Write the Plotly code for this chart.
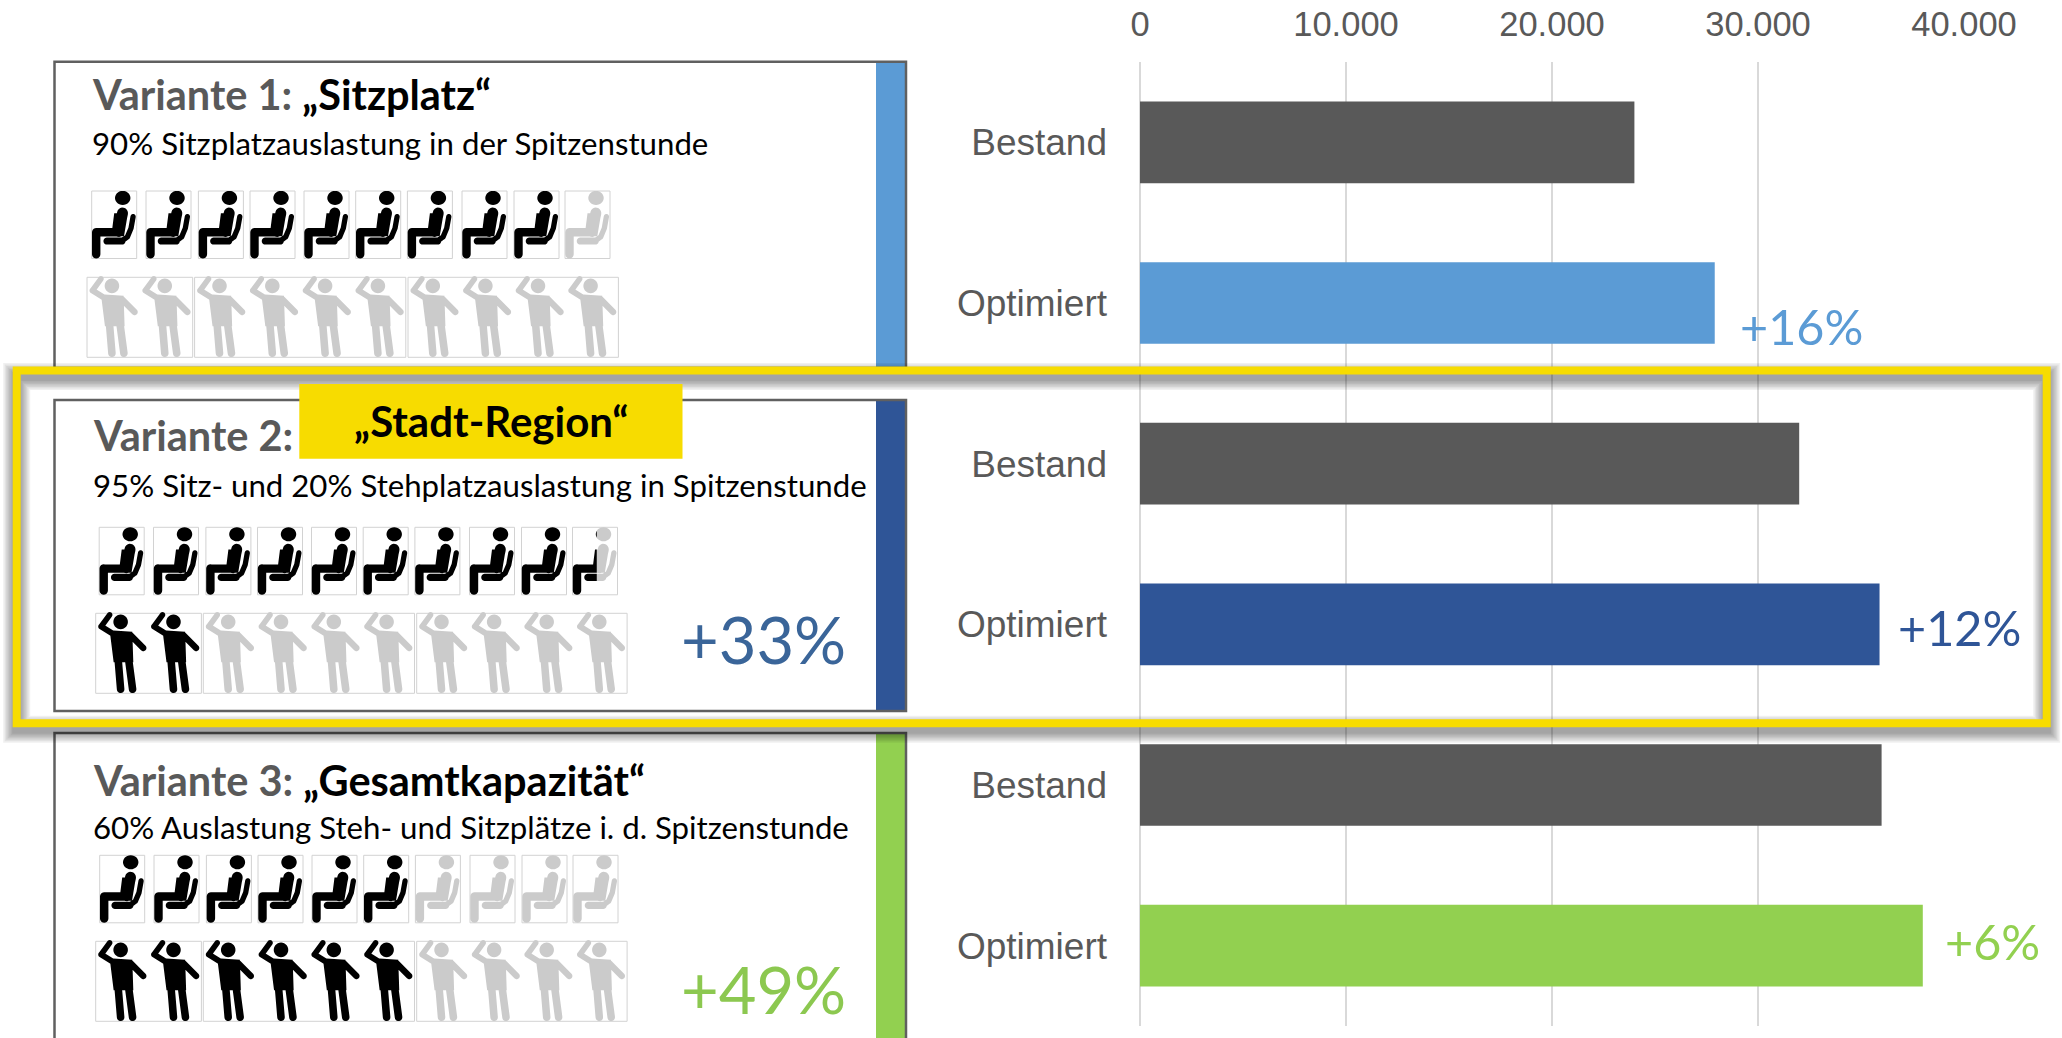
import math
import numpy as np
import plotly.graph_objects as go

# ---------- data ----------
bar_labels = ["Bestand", "Optimiert", "Bestand", "Optimiert", "Bestand", "Optimiert"]
bar_values = [24000, 27900, 32000, 35900, 36000, 38000]
bar_colors = ["#595959", "#5B9BD5", "#595959", "#2F5597", "#595959", "#92D050"]
axis_ticks = [0, 10000, 20000, 30000, 40000]

heading_gray = ["Variante 1:", "Variante 2:", "Variante 3:"]
heading_black = ["„Sitzplatz“", "", "„Gesamtkapazität“"]
subtitles = ["90% Sitzplatzauslastung in der Spitzenstunde",
             "95% Sitz- und 20% Stehplatzauslastung in Spitzenstunde",
             "60% Auslastung Steh- und Sitzplätze i. d. Spitzenstunde"]
highlight_label = "„Stadt-Region“"
seats_filled = [9, 9.54, 6]
standing_filled = [0, 2, 6]
panel_colors = ["#5B9BD5", "#2F5597", "#92D050"]
capacity_labels = ["", "+33%", "+49%"]
capacity_colors = ["", "#3A6599", "#8CC850"]
gain_labels = ["+16%", "+12%", "+6%"]
gain_colors = ["#5B9BD5", "#2F5597", "#92D050"]

# ---------- layout constants (pixels of the 2062x1038 page) ----------
W, H = 2062, 1038
PLOT_L, PLOT_R, PLOT_T, PLOT_B = 1140, 1964, 62, 1026
YELLOW = "#F7DC00"
ICON_BLACK, ICON_GRAY, CELL = "#000000", "#CBCBCB", "#D2D2D2"

panel_top = [61.7, 400, 733]
panel_bottom = [368, 711, 1042]
heading_y = [94, 435, 780]
subtitle_y = [143, 484.5, 827]
text_x = [91, 92, 92]
capacity_y = [0, 639, 989]
seat_x0 = [91.7, 99.2, 99.7]
seat_y0 = [191, 527.3, 855.3]
stand_x0 = [87, 95.7, 95.7]
stand_y0 = [277.3, 613.3, 941.3]
seat_offsets = [0, 54.3, 106.7, 158.3, 212.3, 264, 315.7, 370.3, 422.3, 473.3]
SEAT_W, SEAT_H = 45, 67.5
stand_groups = [(0, 105.7, 2), (107.6, 318.8, 4), (321, 531.4, 4)]
STAND_H = 80


def X(px):
    return px / W


def Y(py):
    return 1 - py / H


# ---------- pictogram geometry: lists of convex pieces in a nominal cell ----------
def circle(cx, cy, rx, ry=None, n=28):
    ry = rx if ry is None else ry
    return [(cx + rx * math.cos(2 * math.pi * i / n), cy + ry * math.sin(2 * math.pi * i / n)) for i in range(n)]


def capsule(p, q, r, n=10):
    ang = math.atan2(q[1] - p[1], q[0] - p[0])
    pts = []
    for i in range(n + 1):
        a = ang + math.pi / 2 + math.pi * i / n
        pts.append((p[0] + r * math.cos(a), p[1] + r * math.sin(a)))
    for i in range(n + 1):
        a = ang - math.pi / 2 + math.pi * i / n
        pts.append((q[0] + r * math.cos(a), q[1] + r * math.sin(a)))
    return pts


def stroke(points, r):
    return [capsule(points[i], points[i + 1], r) for i in range(len(points) - 1)]


SEAT_PIECES = (
    [circle(31.7, 6.9, 7.9, 7.0)]
    + stroke([(31.5, 22), (27.5, 40)], 5.6)
    + [[(23, 22), (37, 22), (33, 45), (20, 45)]]
    + stroke([(4.6, 41), (26, 41)], 4.2)
    + stroke([(4.6, 41), (4.6, 62.7)], 4.3)
    + stroke([(42.3, 25.5), (40.2, 37), (36.5, 45.5), (31, 49.5)], 2.7)
    + stroke([(31, 49.7), (15.5, 49.7)], 3.5)
)
STAND_PIECES = (
    [circle(25, 8.6, 7.3)]
    + [[(14, 17), (36.7, 18.5), (37.7, 49), (18, 49)]]
    + stroke([(35, 22), (47.7, 34.7)], 3.2)
    + stroke([(18, 21), (5.5, 13.2)], 3.0)
    + stroke([(5.5, 13.2), (14, 1.5)], 2.8)
    + stroke([(22.5, 46), (25, 76)], 3.8)
    + stroke([(33, 46), (37, 76)], 3.8)
)


def clip_halfplane(poly, c, keep_left):
    out = []
    n = len(poly)
    inside = (lambda p: p[0] <= c) if keep_left else (lambda p: p[0] >= c)
    for i in range(n):
        a, b = poly[i], poly[(i + 1) % n]
        ia, ib = inside(a), inside(b)
        if ia:
            out.append(a)
        if ia != ib:
            t = (c - a[0]) / (b[0] - a[0])
            out.append((c, a[1] + t * (b[1] - a[1])))
    return out


def oriented(poly):
    area = sum(poly[i][0] * poly[(i + 1) % len(poly)][1] - poly[(i + 1) % len(poly)][0] * poly[i][1]
               for i in range(len(poly)))
    return poly if area > 0 else poly[::-1]


def piece_path(poly):
    poly = oriented(poly)
    return "M" + "L".join(f"{X(x):.6f},{Y(y):.6f}" for x, y in poly) + "Z"


def place(pieces, x0, y0, sx, sy, clip=None, keep_left=True):
    path = ""
    for piece in pieces:
        pts = [(x0 + sx * x, y0 + sy * y) for x, y in piece]
        if clip is not None:
            pts = clip_halfplane(pts, clip, keep_left)
        if len(pts) >= 3:
            path += piece_path(pts)
    return path


def add_icon(paths, pieces, x0, y0, w, sx, sy, filled_fraction):
    if filled_fraction >= 1:
        paths["black"] += place(pieces, x0, y0, sx, sy)
    elif filled_fraction <= 0:
        paths["gray"] += place(pieces, x0, y0, sx, sy)
    else:
        c = x0 + w * filled_fraction
        paths["black"] += place(pieces, x0, y0, sx, sy, c, True)
        paths["gray"] += place(pieces, x0, y0, sx, sy, c, False)


shapes = []


def rect(x0, y0, x1, y1, fill=None, line=None, lw=0):
    shapes.append(dict(type="rect", xref="paper", yref="paper", layer="above",
                       x0=X(x0), x1=X(x1), y0=Y(y1), y1=Y(y0),
                       fillcolor=fill if fill else "rgba(0,0,0,0)",
                       line=dict(color=line if line else "rgba(0,0,0,0)", width=lw)))


annotations = []


def text(x, y, s, size, color, bold=False, family="Lato", anchor="left"):
    if bold:
        s = f"<b>{s}</b>"
    annotations.append(dict(xref="paper", yref="paper", x=X(x), y=Y(y), text=s, showarrow=False,
                            xanchor=anchor, yanchor="middle", borderpad=0,
                            font=dict(family=family, size=size, color=color)))


# ---------- panels ----------
for i in range(3):
    rect(54.5, panel_top[i], 906, panel_bottom[i], fill="#FFFFFF")
    rect(876, panel_top[i], 906, panel_bottom[i], fill=panel_colors[i])
    rect(54.5, panel_top[i], 906, panel_bottom[i], line="#606060", lw=2.5)
    head = f'<span style="color:#595959">{heading_gray[i]}</span>'
    if heading_black[i]:
        head += f' <span style="color:#000000">{heading_black[i]}</span>'
    text(text_x[i], heading_y[i], head, 41.5, "#595959", bold=True)
    text(text_x[i], subtitle_y[i], subtitles[i], 31.2, "#000000")
    if capacity_labels[i]:
        text(680, capacity_y[i], capacity_labels[i], 65, capacity_colors[i])

    paths = {"black": "", "gray": ""}
    for k, off in enumerate(seat_offsets):
        x0 = seat_x0[i] + off
        rect(x0, seat_y0[i], x0 + SEAT_W, seat_y0[i] + SEAT_H, line=CELL, lw=1)
        add_icon(paths, SEAT_PIECES, x0, seat_y0[i], SEAT_W, SEAT_W / 46, SEAT_H / 67,
                 seats_filled[i] - k)
    k = 0
    for g0, g1, n in stand_groups:
        rect(stand_x0[i] + g0, stand_y0[i], stand_x0[i] + g1, stand_y0[i] + STAND_H, line=CELL, lw=1)
        fw = (g1 - g0) / n
        for j in range(n):
            add_icon(paths, STAND_PIECES, stand_x0[i] + g0 + j * fw, stand_y0[i], fw, fw / 53, STAND_H / 80,
                     standing_filled[i] - k)
            k += 1
    for key, col in (("gray", ICON_GRAY), ("black", ICON_BLACK)):
        if paths[key]:
            shapes.append(dict(type="path", xref="paper", yref="paper", layer="above", path=paths[key],
                               fillcolor=col, fillrule="nonzero", line=dict(width=0)))

# ---------- highlight frame with drop shadow ----------
FX0, FY0, FX1, FY1 = 16.7, 370.5, 2046.7, 723.3
for w in range(27, 6, -3):
    rect(FX0, FY0 + 6, FX1, FY1 + 6, line="rgba(0,0,0,0.06)", lw=w)
rect(FX0, FY0, FX1, FY1, line=YELLOW, lw=8)
rect(299.3, 384, 682.5, 458.7, fill=YELLOW)
text(491, 421, highlight_label, 42, "#000000", bold=True, anchor="center")

# ---------- gain labels ----------
for lab, col, x, y in zip(gain_labels, gain_colors, [1739, 1897, 1944], [326, 627, 941]):
    text(x, y, lab, 48.5, col)

# ---------- chart ----------
fig = go.Figure(go.Bar(x=bar_values, y=list(range(len(bar_values))), orientation="h",
                       marker=dict(color=bar_colors, line=dict(width=0)), width=0.508,
                       hoverinfo="skip"))
fig.update_layout(
    width=W, height=H, margin=dict(l=0, r=0, t=0, b=0), autosize=False,
    paper_bgcolor="#FFFFFF", plot_bgcolor="rgba(0,0,0,0)", showlegend=False, separators=",.",
    shapes=shapes, annotations=annotations,
    xaxis=dict(domain=[X(PLOT_L), X(PLOT_R)], range=[0, 40000], side="top", tickvals=axis_ticks,
               tickformat=",d", showgrid=True, gridcolor="#D9D9D9", gridwidth=2,
               zeroline=True, zerolinecolor="#D9D9D9", zerolinewidth=2, showline=False,
               ticks="", ticklabelstandoff=18, automargin=False,
               tickfont=dict(family="Liberation Sans", size=34.5, color="#595959")),
    yaxis=dict(domain=[Y(PLOT_B), Y(PLOT_T)], range=[5.5, -0.5], tickvals=list(range(len(bar_labels))),
               ticktext=bar_labels, showgrid=False, zeroline=False, showline=False, ticks="",
               ticklabelstandoff=32, automargin=False,
               tickfont=dict(family="Liberation Sans", size=37, color="#595959")),
)
fig.write_html("out.html", config=dict(displayModeBar=False),
               post_script="document.body.style.margin='0';document.documentElement.style.overflow='hidden';")
